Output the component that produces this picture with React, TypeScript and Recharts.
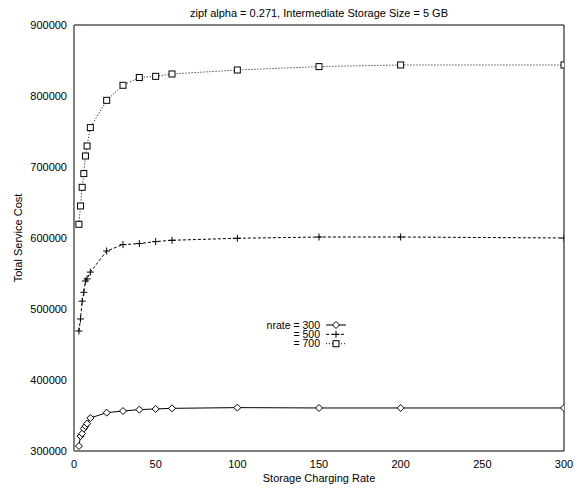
import React from 'react';
import { LineChart, Line, XAxis, YAxis, Legend } from 'recharts';

const rates = [3, 4, 5, 6, 7, 8, 10, 20, 30, 40, 50, 60, 100, 150, 200, 300];
const cost300 = [307000, 321000, 324500, 331500, 335000, 338500, 346500, 354000, 356300, 358300, 359200, 360100, 361100, 360600, 360600, 360600];
const cost500 = [469000, 486000, 511000, 523500, 539400, 542400, 552000, 581700, 590700, 592100, 595000, 596800, 599600, 601400, 601400, 600000];
const cost700 = [619300, 645100, 671400, 690700, 715500, 729600, 755500, 793900, 815100, 826000, 827700, 831000, 836600, 841400, 843700, 843700];

const xTicks = [0, 50, 100, 150, 200, 250, 300];
const yTicks = [300000, 400000, 500000, 600000, 700000, 800000, 900000];
const seriesNames = ['nrate = 300', '= 500', '= 700'];
const title = 'zipf alpha = 0.271, Intermediate Storage Size = 5 GB';
const xLabel = 'Storage Charging Rate';
const yLabel = 'Total Service Cost';

const data = rates.map((r, i) => ({ r, a: cost300[i], b: cost500[i], c: cost700[i] }));

const FONT = '"Liberation Sans", Arial, Helvetica, sans-serif';

const Diamond = ({ cx, cy, k }: any) => (
  <path key={k} d={`M${cx},${cy - 3.5} L${cx + 3.5},${cy} L${cx},${cy + 3.5} L${cx - 3.5},${cy} Z`} fill="#fff" stroke="#000" strokeWidth={1} />
);
const Plus = ({ cx, cy, k }: any) => (
  <path key={k} d={`M${cx - 3.5},${cy} L${cx + 3.5},${cy} M${cx},${cy - 3.5} L${cx},${cy + 3.5}`} fill="none" stroke="#000" strokeWidth={1} />
);
const Square = ({ cx, cy, k }: any) => (
  <rect key={k} x={cx - 3} y={cy - 3} width={6} height={6} fill="#fff" stroke="#000" strokeWidth={1} />
);

const dotDiamond = (p: any) => <Diamond key={`d${p.index}`} k={`d${p.index}`} cx={p.cx} cy={p.cy} />;
const dotPlus = (p: any) => <Plus key={`p${p.index}`} k={`p${p.index}`} cx={p.cx} cy={p.cy} />;
const dotSquare = (p: any) => <Square key={`s${p.index}`} k={`s${p.index}`} cx={p.cx} cy={p.cy} />;

const LegendBox = () => {
  const rows = [
    { name: seriesNames[0], dash: undefined, M: Diamond },
    { name: seriesNames[1], dash: '3 2', M: Plus },
    { name: seriesNames[2], dash: '1 2', M: Square },
  ];
  return (
    <svg width={120} height={40} style={{ overflow: 'visible', display: 'block' }}>
      {rows.map((row, i) => {
        const y = 9 + i * 9.35;
        const M = row.M;
        return (
          <g key={i}>
            <text x={80} y={y} dy="0.35em" textAnchor="end" fontSize={10.5} fontFamily={FONT} fill="#000">{row.name}</text>
            <line x1={86} x2={106} y1={y} y2={y} stroke="#000" strokeWidth={1} strokeDasharray={row.dash} />
            <M cx={96} cy={y} k={`l${i}`} />
          </g>
        );
      })}
    </svg>
  );
};

export default function App() {
  return (
    <div style={{ position: 'absolute', left: 0, top: 0, width: 580, height: 489, background: '#fff' }}>
      <LineChart width={580} height={489} data={data} margin={{ top: 25, right: 16, left: 0, bottom: 0 }} style={{ fontFamily: FONT }}>
        <XAxis
          xAxisId="x" dataKey="r" type="number" domain={[0, 300]} ticks={xTicks} allowDataOverflow
          height={38} tickLine={false} tickSize={0} tickMargin={9}
          axisLine={{ stroke: '#000', strokeWidth: 1 }}
          tick={{ fontSize: 11, fill: '#000', fontFamily: FONT }}
          label={{ value: xLabel, position: 'insideBottom', offset: 7, fontSize: 11, fill: '#000', fontFamily: FONT }}
        />
        <XAxis
          xAxisId="xb" dataKey="r" type="number" domain={[0, 300]} ticks={xTicks} allowDataOverflow orientation="bottom" mirror
          tick={false} tickSize={6} axisLine={false} tickLine={{ stroke: '#000' }}
        />
        <XAxis
          xAxisId="xt" dataKey="r" type="number" domain={[0, 300]} ticks={xTicks} allowDataOverflow orientation="top" mirror
          tick={false} tickSize={6} axisLine={{ stroke: '#000' }} tickLine={{ stroke: '#000' }}
          label={{ value: title, position: 'top', offset: 8, fontSize: 11, fill: '#000', fontFamily: FONT }}
        />
        <YAxis
          yAxisId="y" type="number" domain={[300000, 900000]} ticks={yTicks} allowDataOverflow
          width={74} tickLine={false} tickSize={0} tickMargin={7}
          axisLine={{ stroke: '#808080', strokeWidth: 2 }}
          tick={{ fontSize: 11, fill: '#000', fontFamily: FONT }}
          label={{
            content: (props: any) => {
              const vb = props.viewBox || { x: 0, y: 25, width: 74, height: 426 };
              const cx = 18;
              const cy = vb.y + vb.height / 2;
              return (
                <text x={cx} y={cy} dy="0.35em" textAnchor="middle" transform={`rotate(-90, ${cx}, ${cy})`} fontSize={11} fill="#000" fontFamily={FONT}>{yLabel}</text>
              );
            },
          }}
        />
        <YAxis
          yAxisId="yl" type="number" domain={[300000, 900000]} ticks={yTicks} allowDataOverflow orientation="left" mirror
          tick={false} tickSize={6} axisLine={false} tickLine={{ stroke: '#000' }}
        />
        <YAxis
          yAxisId="yr" type="number" domain={[300000, 900000]} ticks={yTicks} allowDataOverflow orientation="right" mirror
          tick={false} tickSize={6} axisLine={{ stroke: '#000' }} tickLine={{ stroke: '#000' }}
        />
        <Legend
          layout="vertical" align="center" verticalAlign="middle"
          wrapperStyle={{ position: 'absolute', left: 240, top: 316, width: 120, height: 40 }}
          content={() => <LegendBox />}
        />
        <Line xAxisId="x" yAxisId="y" dataKey="a" name={seriesNames[0]} type="linear" stroke="#000" strokeWidth={1} dot={dotDiamond} isAnimationActive={false} />
        <Line xAxisId="x" yAxisId="y" dataKey="b" name={seriesNames[1]} type="linear" stroke="#000" strokeWidth={1} strokeDasharray="3 2" dot={dotPlus} isAnimationActive={false} />
        <Line xAxisId="x" yAxisId="y" dataKey="c" name={seriesNames[2]} type="linear" stroke="#000" strokeWidth={1} strokeDasharray="1 2" dot={dotSquare} isAnimationActive={false} />
      </LineChart>
    </div>
  );
}
